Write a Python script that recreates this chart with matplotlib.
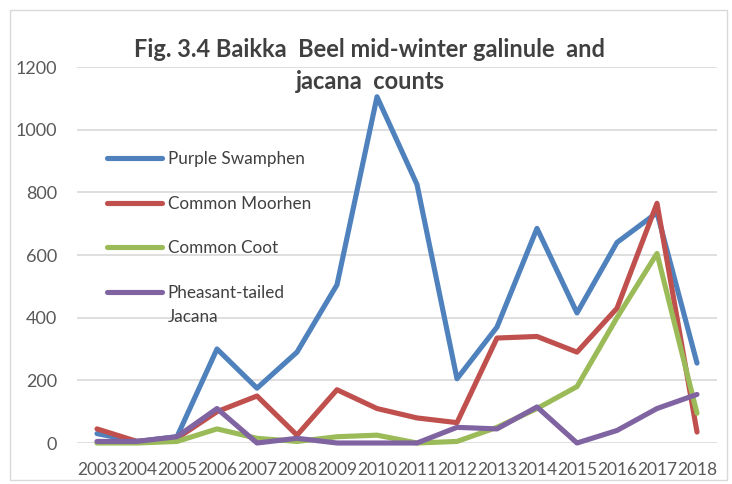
import matplotlib
matplotlib.use("Agg")
import matplotlib.pyplot as plt
from matplotlib.patches import Rectangle

years = ["2003", "2004", "2005", "2006", "2007", "2008", "2009", "2010",
         "2011", "2012", "2013", "2014", "2015", "2016", "2017", "2018"]

purple_swamphen = [30, 5, 20, 300, 175, 290, 505, 1105, 825, 205, 370, 685, 415, 640, 735, 255]
common_moorhen = [45, 5, 15, 100, 150, 25, 170, 110, 80, 65, 335, 340, 290, 430, 765, 35]
common_coot = [0, 0, 5, 45, 15, 5, 20, 25, 0, 5, 50, 110, 180, 400, 605, 95]
pheasant_tailed_jacana = [5, 5, 20, 110, 0, 15, 0, 0, 0, 50, 45, 115, 0, 40, 110, 155]

series = [
    ("Purple Swamphen", purple_swamphen, "#4F81BD"),
    ("Common Moorhen", common_moorhen, "#C0504D"),
    ("Common Coot", common_coot, "#9BBB59"),
    ("Pheasant-tailed", pheasant_tailed_jacana, "#8064A2"),
]

plt.rcParams["font.family"] = ["Lato", "DejaVu Sans"]

W, H = 732, 484
fig = plt.figure(figsize=(W / 100, H / 100), dpi=100)
fig.patch.set_facecolor("white")

# chart border
fig.patches.append(Rectangle((10 / W, 1 - 480 / H), (727 - 10) / W, (480 - 10) / H,
                             transform=fig.transFigure, fill=False,
                             edgecolor="#D9D9D9", linewidth=1.0))

ax = fig.add_axes([77 / W, 1 - 443 / H, (717 - 77) / W, (443 - 67) / H])
x = list(range(len(years)))
for label, values, color in series:
    ax.plot(x, values, color=color, linewidth=3.7, label=label,
            solid_capstyle="round", solid_joinstyle="round", clip_on=False, zorder=3)

ax.set_xlim(-0.5, len(years) - 0.5)
ax.set_ylim(0, 1200)
ax.set_yticks(range(0, 1201, 200))
ax.set_xticks(x)
ax.set_xticklabels(years)
ax.grid(axis="y", color="#D9D9D9", linewidth=1.2)
ax.set_axisbelow(True)
for s in ax.spines.values():
    s.set_visible(False)
ax.tick_params(axis="both", length=0, colors="#595959")
ax.tick_params(axis="y", labelsize=13, pad=14.4)
ax.tick_params(axis="x", labelsize=12.5, pad=14)

leg = ax.legend(loc="upper left", bbox_to_anchor=(0.036, 0.794), frameon=False,
                fontsize=12.3, handlelength=3.2, handletextpad=0.35,
                labelspacing=1.67, borderaxespad=0)
for t in leg.get_texts():
    t.set_color("#404040")
for h in leg.get_lines():
    h.set_linewidth(3.7)
    h.set_solid_capstyle("round")

fig.text(370 / W, 1 - 57 / H, "Fig. 3.4 Baikka  Beel mid-winter galinule  and",
         ha="center", va="baseline", fontsize=17, fontweight="bold", color="#404040")
fig.text(370 / W, 1 - 89 / H, "jacana  counts",
         ha="center", va="baseline", fontsize=17, fontweight="bold", color="#404040")

# second line of the jacana legend entry, hanging under the first
fig.canvas.draw()
bb = leg.get_texts()[-1].get_window_extent()
fig.text(bb.x0 / W, (bb.y0 - 8) / H, "Jacana", ha="left", va="top",
         fontsize=12.3, color="#404040")

fig.savefig("out.png", dpi=100)
